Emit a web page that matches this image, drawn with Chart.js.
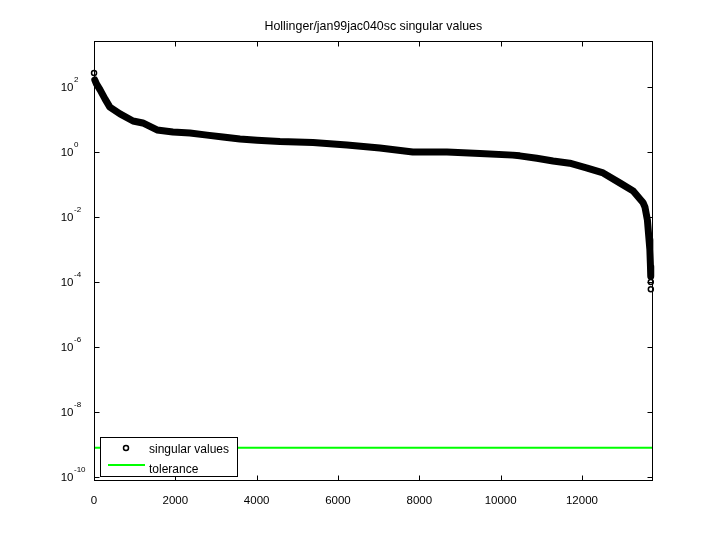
<!DOCTYPE html>
<html>
<head>
<meta charset="utf-8">
<script src="https://cdn.jsdelivr.net/npm/chart.js@4"></script>
<style>
  html, body { margin: 0; padding: 0; background: #fff; }
  canvas { display: block; }
</style>
</head>
<body>
<canvas id="chart" width="720" height="540"></canvas>
<script>
/* --- Données --- */
const chartTitle = 'Hollinger/jan99jac040sc singular values';
const svIndex = [1, 20, 60, 150, 270, 390, 640, 960, 1200, 1550, 1940, 2360, 2780, 3170, 3590, 4010,
    4573, 5385, 6220, 7030, 7840, 8680, 9490, 10300, 10470, 10890, 11290, 11700, 12130, 12520, 12940,
    13260, 13500, 13550, 13610, 13650, 13670, 13685, 13692, 13693, 13694];
const svValue = [270, 164, 124, 81, 43, 24, 14.8, 9, 7.8, 4.75, 4.1, 3.85, 3.3, 2.9, 2.5, 2.3,
    2.1, 1.96, 1.64, 1.33, 1.0, 1.0, 0.9, 0.8, 0.76, 0.64, 0.53, 0.45, 0.32, 0.226, 0.11,
    0.063, 0.028, 0.02, 0.008, 0.002, 0.001, 3e-4, 1.5e-4, 1.0e-4, 6e-5];
const tolerance = 7.97e-10;
const xTicks = [0, 2000, 4000, 6000, 8000, 10000, 12000];
const yTicks = [1e-10, 1e-8, 1e-6, 1e-4, 1e-2, 1, 1e2];
const xMax = 13740;
const yMin = 7.53e-11;
const yMax = 2600;

const FONT = '"Liberation Sans", Arial, Helvetica, sans-serif';
const nSv = svIndex.length;

/* --- Cadre, graduations internes, étiquettes 10^n et légende --- */
const matlabAxes = {
    id: 'matlabAxes',
    afterDatasetsDraw(chart) {
        const { ctx, chartArea: a, scales } = chart;
        const L = Math.round(a.left) + 0.5, R = Math.round(a.right) - 0.5;
        const T = Math.round(a.top) + 0.5, B = Math.round(a.bottom) - 0.5;
        ctx.save();
        ctx.strokeStyle = '#000';
        ctx.lineWidth = 1;
        ctx.strokeRect(L, T, R - L, B - T);

        // graduations vers l'intérieur
        ctx.beginPath();
        xTicks.forEach(v => {
            const px = Math.round(scales.x.getPixelForValue(v)) + 0.5;
            ctx.moveTo(px, B); ctx.lineTo(px, B - 5);
            ctx.moveTo(px, T); ctx.lineTo(px, T + 5);
        });
        yTicks.forEach(v => {
            const py = Math.round(scales.y.getPixelForValue(v)) + 0.5;
            ctx.moveTo(L, py); ctx.lineTo(L + 5, py);
            ctx.moveTo(R, py); ctx.lineTo(R - 5, py);
        });
        ctx.stroke();

        // étiquettes 10^n
        ctx.fillStyle = '#000';
        yTicks.forEach(v => {
            const py = scales.y.getPixelForValue(v);
            const e = Math.round(Math.log10(v));
            ctx.font = `11.5px ${FONT}`;
            ctx.textAlign = 'right';
            ctx.textBaseline = 'middle';
            ctx.fillText('10', 73.5, py + 1);
            ctx.font = `8px ${FONT}`;
            ctx.textAlign = 'left';
            ctx.fillText(String(e), 74, py - 7);
        });

        // légende
        const ds = chart.data.datasets;
        ctx.fillStyle = '#fff';
        ctx.fillRect(100.5, 437.5, 137, 39);
        ctx.strokeRect(100.5, 437.5, 137, 39);
        ctx.beginPath();
        ctx.lineWidth = 1.5;
        ctx.arc(126, 448, 2.5, 0, Math.PI * 2);
        ctx.stroke();
        ctx.strokeStyle = ds[1].borderColor;
        ctx.lineWidth = 2;
        ctx.beginPath();
        ctx.moveTo(108, 465); ctx.lineTo(145, 465);
        ctx.stroke();
        ctx.fillStyle = '#000';
        ctx.font = `12px ${FONT}`;
        ctx.textAlign = 'left';
        ctx.textBaseline = 'alphabetic';
        ctx.fillText(ds[0].label, 149, 453);
        ctx.fillText(ds[1].label, 149, 472.5);
        ctx.restore();
    }
};

new Chart(document.getElementById('chart'), {
    type: 'scatter',
    data: {
        datasets: [
            {
                label: 'singular values',
                data: svIndex.map((x, i) => ({ x, y: svValue[i] })),
                showLine: true,
                clip: false,
                borderColor: '#000',
                borderWidth: 7,
                borderCapStyle: 'round',
                borderJoinStyle: 'round',
                segment: {
                    borderColor: (c) => (c.p0DataIndex === 0 || c.p0DataIndex >= nSv - 3) ? 'rgba(0,0,0,0)' : '#000'
                },
                pointRadius: (c) => (c.dataIndex === 0 || c.dataIndex >= nSv - 2) ? 2.5 : 0,
                pointBackgroundColor: '#fff',
                pointBorderColor: '#000',
                pointBorderWidth: 1.5
            },
            {
                label: 'tolerance',
                data: [{ x: 0, y: tolerance }, { x: xMax, y: tolerance }],
                showLine: true,
                borderColor: '#00ff00',
                borderWidth: 2,
                pointRadius: 0
            }
        ]
    },
    options: {
        responsive: false,
        devicePixelRatio: 1,
        animation: false,
        layout: { padding: { left: 94, right: 67.3, top: 0, bottom: 0 } },
        plugins: {
            legend: { display: false },
            tooltip: { enabled: false },
            title: {
                display: true,
                text: chartTitle,
                color: '#000',
                font: { family: FONT, size: 12.4, weight: 'normal' },
                padding: { top: 19.6, bottom: 6.5 }
            }
        },
        scales: {
            x: {
                type: 'linear',
                min: 0,
                max: xMax,
                afterFit: (s) => { s.height = 59; },
                afterBuildTicks: (s) => { s.ticks = xTicks.map(value => ({ value })); },
                grid: { display: false },
                border: { display: false },
                ticks: {
                    color: '#000',
                    font: { family: FONT, size: 11.5 },
                    padding: 5,
                    maxRotation: 0,
                    autoSkip: false,
                    callback: (v) => String(v)
                }
            },
            y: {
                type: 'logarithmic',
                min: yMin,
                max: yMax,
                afterFit: (s) => { s.width = 0; },
                afterBuildTicks: (s) => { s.ticks = yTicks.map(value => ({ value })); },
                grid: { display: false },
                border: { display: false },
                ticks: { display: false }
            }
        }
    },
    plugins: [matlabAxes]
});
</script>
</body>
</html>
